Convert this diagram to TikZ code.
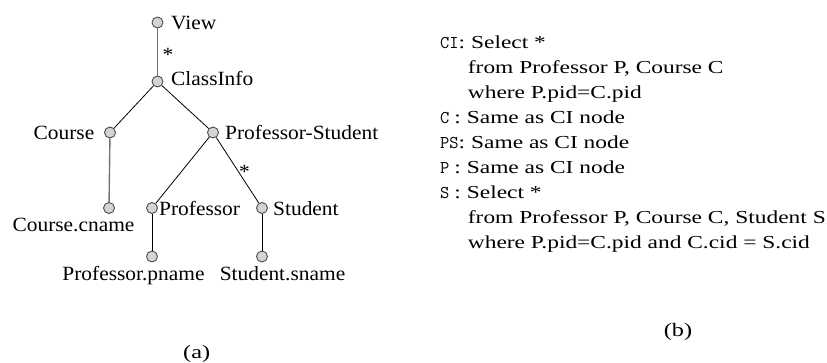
\documentclass[tikz,border=0pt]{standalone}
\usepackage{fontspec}
\setmainfont{Liberation Serif}
\newfontfamily\treefont[FakeStretch=1.06]{Liberation Serif}
\newfontfamily\qfont[FakeStretch=1.28]{Liberation Serif}
\begin{document}
\begin{tikzpicture}[x=1pt,y=-1pt,
  vert/.style={circle, draw=black!70, fill=black!17, line width=0.9pt,
               minimum size=11pt, inner sep=0pt},
  lbl/.style={font=\treefont\fontsize{20.2}{24}\selectfont, inner sep=0pt},
  edgeb/.style={draw=black, line width=0.8pt},
  edgeg/.style={draw=black!55, line width=1.4pt},
  ql/.style={font=\qfont\fontsize{18.3}{22}\selectfont, anchor=base west, inner sep=0pt},
  figcaption/.style={font=\qfont\fontsize{19}{22}\selectfont, anchor=base, inner sep=0pt}]
\useasboundingbox (0,0) rectangle (827,363);

% tree vertices
\node[vert] (view)  at (157.5,22.5) {};
\node[vert] (ci)    at (157.5,81.5) {};
\node[vert] (crs)   at (110,132.5) {};
\node[vert] (ps)    at (213,132.5) {};
\node[vert] (cname) at (109,208) {};
\node[vert] (prof)  at (152,208) {};
\node[vert] (stu)   at (262,208) {};
\node[vert] (pname) at (152,256.5) {};
\node[vert] (sname) at (262,256.5) {};

% tree edges
\draw[edgeg] (view) -- (ci);
\draw[edgeb] (ci) -- (crs);
\draw[edgeb] (ci) -- (ps);
\draw[edgeg] (crs) -- (cname);
\draw[edgeb] (ps) -- (prof);
\draw[edgeb] (ps) -- (stu);
\draw[edgeb] (prof) -- (pname);
\draw[edgeb] (stu) -- (sname);

% vertex labels
\node[lbl, anchor=base west] (lview)  at (171,30)    {View};
\node[lbl, anchor=base west] (lci)    at (171,85.5)  {ClassInfo};
\node[lbl, anchor=base east] (lcrs)   at (94.5,140)  {Course};
\node[lbl, anchor=base west] (lps)    at (225,140)   {Professor-Student};
\node[lbl, anchor=base]      (lcname) at (73.5,231.7){Course.cname};
\node[lbl, anchor=base west] (lprof)  at (159,216)   {Professor};
\node[lbl, anchor=base west] (lstu)   at (273,216)   {Student};
\node[lbl, anchor=base]      (lpname) at (133.5,280.7){Professor.pname};
\node[lbl, anchor=base]      (lsname) at (282.5,280.7){Student.sname};

% multiplicity marks
\node[lbl, anchor=base] (star1) at (168,62) {*};
\node[lbl, anchor=base] (star2) at (244.5,178.5) {*};

% node definitions
\newcommand{\mono}[1]{{\ttfamily\fontsize{18}{20}\selectfont #1}}
\node[ql] (q1) at (440,49)   {\mono{CI}: Select *};
\node[ql] (q2) at (467.7,74) {from Professor P, Course C};
\node[ql] (q3) at (467.7,99) {where P.pid=C.pid};
\node[ql] (q4) at (440,124)  {\mono{C}\hspace{5pt}: Same as CI node};
\node[ql] (q5) at (440,149)  {\mono{PS}: Same as CI node};
\node[ql] (q6) at (440,174)  {\mono{P}\hspace{5pt}: Same as CI node};
\node[ql] (q7) at (440,199)  {\mono{S}\hspace{5pt}: Select *};
\node[ql] (q8) at (467.7,224){from Professor P, Course C, Student S};
\node[ql] (q9) at (467.7,249){where P.pid=C.pid and C.cid = S.cid};

% captions
\node[figcaption] (capa) at (196.7,358) {(a)};
\node[figcaption] (capb) at (678,336)   {(b)};
\end{tikzpicture}
\end{document}
